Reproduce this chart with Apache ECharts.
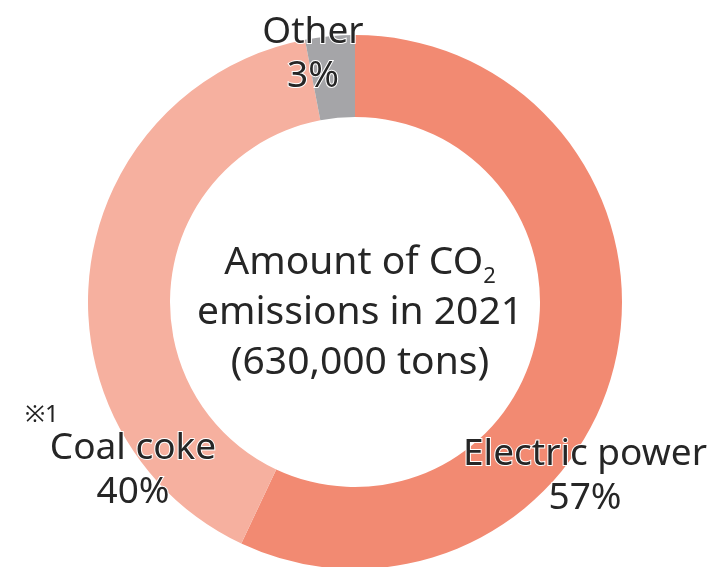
<!DOCTYPE html>
<html>
<head>
<meta charset="utf-8">
<script src="https://cdn.jsdelivr.net/npm/echarts@6/dist/echarts.min.js"></script>
<style>
html,body{margin:0;padding:0;background:#fff;}
#chart{width:714px;height:567px;}
</style>
</head>
<body>
<div id="chart"></div>
<script>
var categories = ['Electric power', 'Coal coke', 'Other'];
var values = [57, 40, 3];
var colors = ['#F28A72', '#F6B09F', '#A5A5A8'];
var centerLine1 = 'Amount of CO';
var centerSub = '2';
var centerLine2 = 'emissions in 2021';
var centerLine3 = '(630,000 tons)';
var noteText = '※1';

var labelPos = [
  {x: 585, y: 476},
  {x: 133, y: 470},
  {x: 313, y: 54}
];

var FONT = '"Noto Sans", sans-serif';
var chart = echarts.init(document.getElementById('chart'), null, {renderer: 'canvas'});
chart.setOption({
  backgroundColor: '#ffffff',
  animation: false,
  title: {
    text: '{a|' + centerLine1 + '}{s|' + centerSub + '}\n{a|' + centerLine2 + '}\n{a|' + centerLine3 + '}',
    left: 355,
    top: 233,
    textAlign: 'center',
    textStyle: {
      fontWeight: 'normal',
      rich: {
        a: {fontFamily: FONT, fontSize: 39, fontWeight: 'normal', color: '#262626', lineHeight: 50, align: 'center'},
        s: {fontFamily: FONT, fontSize: 22, fontWeight: 'normal', color: '#262626', lineHeight: 42, verticalAlign: 'bottom'}
      }
    }
  },
  graphic: [{
    type: 'text',
    left: 25,
    top: 403,
    style: {text: noteText, font: '24px ' + FONT, fill: '#222'}
  }],
  series: [{
    type: 'pie',
    center: [355, 302],
    radius: [185, 267],
    startAngle: 90,
    clockwise: true,
    avoidLabelOverlap: false,
    itemStyle: {borderWidth: 0},
    label: {
      show: true,
      position: 'outside',
      formatter: function (p) { return p.name + '\n' + p.value + '%'; },
      fontFamily: FONT,
      fontSize: 37,
      lineHeight: 44,
      color: '#262626',
      textBorderColor: '#ffffff',
      textBorderWidth: 2,
      align: 'center'
    },
    labelLine: {show: false},
    labelLayout: function (params) {
      var p = labelPos[params.dataIndex];
      return {x: p.x, y: p.y, align: 'center', verticalAlign: 'middle', hideOverlap: false};
    },
    emphasis: {disabled: true},
    data: categories.map(function (c, i) {
      return {name: c, value: values[i], itemStyle: {color: colors[i]}};
    })
  }]
});
</script>
</body>
</html>
